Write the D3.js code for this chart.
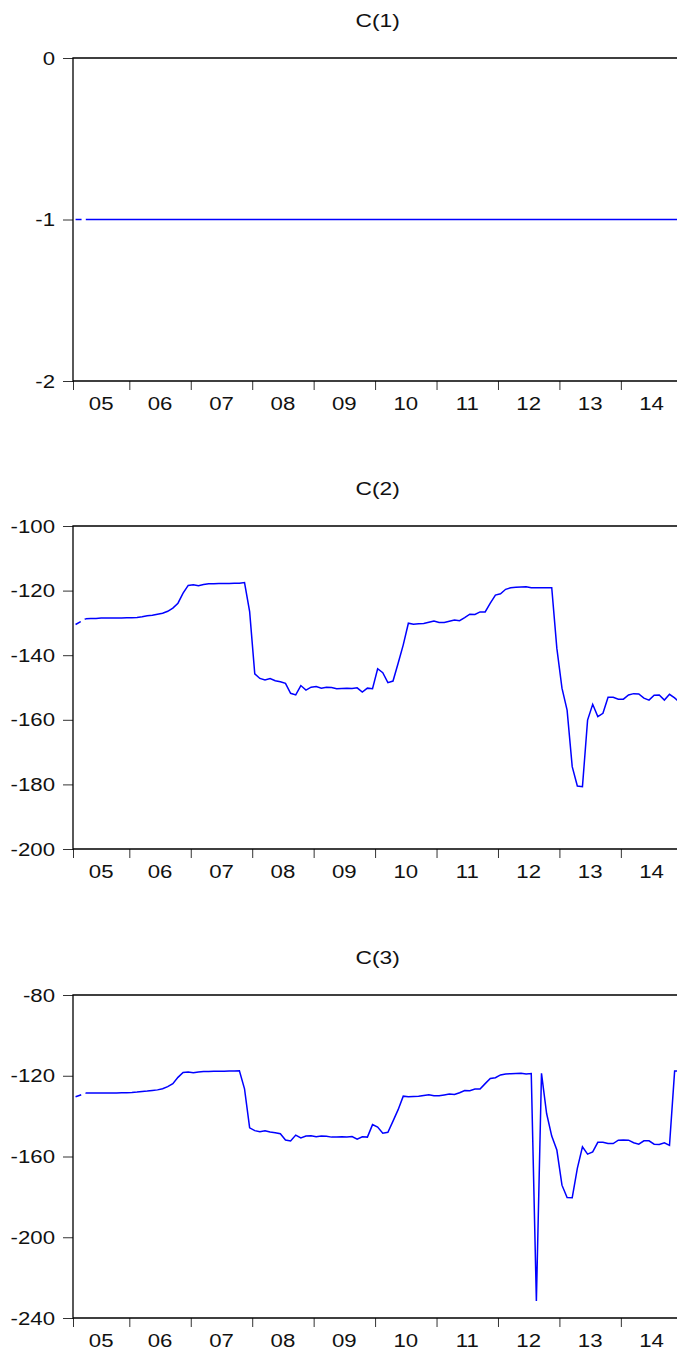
<!DOCTYPE html>
<html>
<head>
<meta charset="utf-8">
<script src="https://cdn.jsdelivr.net/npm/d3@7/dist/d3.min.js"></script>
<style>
  html, body { margin: 0; padding: 0; background: #fff; }
  svg { display: block; }
  text { font-family: "Liberation Sans", Arial, sans-serif; fill: #111; }
</style>
</head>
<body>
<svg id="chart" width="677" height="1353"></svg>
<script>
// ---- data (monthly, 2005M02 .. 2014M12) ----
const yearLabels = ["05","06","07","08","09","10","11","12","13","14"];
const titles = ["C(1)", "C(2)", "C(3)"];

const c1 = new Array(119).fill(-1);

const c2 = [
  -130.5,-129.6,-128.7,-128.6,-128.6,-128.5,-128.5,-128.5,-128.5,-128.5,
  -128.4,-128.4,-128.3,-128.1,-127.8,-127.6,-127.3,-127.0,-126.4,-125.4,
  -123.9,-120.8,-118.4,-118.2,-118.5,-118.1,-117.9,-117.9,-117.8,-117.8,
  -117.8,-117.7,-117.7,-117.5,-126.5,-145.8,-147.2,-147.7,-147.2,-147.9,
  -148.2,-148.7,-151.8,-152.3,-149.4,-150.8,-149.9,-149.7,-150.2,-149.9,
  -150.0,-150.4,-150.3,-150.2,-150.3,-150.1,-151.4,-150.2,-150.4,-144.2,
  -145.4,-148.5,-148.0,-142.5,-136.8,-130.1,-130.4,-130.3,-130.2,-129.8,
  -129.4,-129.9,-129.9,-129.5,-129.1,-129.3,-128.4,-127.3,-127.4,-126.6,
  -126.6,-123.9,-121.4,-121.0,-119.6,-119.1,-119.0,-118.9,-118.8,-119.1,
  -119.1,-119.1,-119.1,-119.1,-137.9,-150.2,-157.0,-174.5,-180.5,-180.7,
  -160.1,-155.2,-159.0,-158.0,-153.0,-153.0,-153.6,-153.6,-152.3,-151.9,
  -152.0,-153.3,-153.9,-152.4,-152.3,-153.9,-152.1,-153.2,-154.6
];

const c3 = [
  -130.4,-129.5,-128.6,-128.6,-128.5,-128.5,-128.5,-128.5,-128.5,-128.4,
  -128.4,-128.3,-128.1,-127.8,-127.6,-127.3,-127.0,-126.4,-125.4,-123.9,
  -120.8,-118.4,-118.2,-118.5,-118.1,-117.9,-117.9,-117.8,-117.8,-117.8,
  -117.7,-117.7,-117.5,-126.5,-145.8,-147.2,-147.7,-147.2,-147.9,-148.2,
  -148.7,-151.8,-152.3,-149.4,-150.8,-149.9,-149.7,-150.2,-149.9,-150.0,
  -150.4,-150.3,-150.2,-150.3,-150.1,-151.4,-150.2,-150.4,-144.2,-145.4,
  -148.5,-148.0,-142.5,-136.8,-130.1,-130.4,-130.3,-130.2,-129.8,-129.4,
  -129.9,-129.9,-129.5,-129.1,-129.3,-128.4,-127.3,-127.4,-126.6,-126.6,
  -123.9,-121.4,-121.0,-119.6,-119.1,-119.0,-118.9,-118.8,-119.1,-118.9,
  -231.6,-118.8,-138.7,-149.9,-156.8,-174.2,-180.3,-180.4,-165.9,-155.2,
  -158.8,-157.7,-153.0,-153.0,-153.5,-153.6,-151.9,-151.8,-151.9,-153.2,
  -153.9,-152.2,-152.2,-153.9,-154.0,-153.2,-154.5,-117.7,-117.7
];

const yTicks1 = [0, -1, -2];
const yTicks2 = [-100, -120, -140, -160, -180, -200];
const yTicks3 = [-80, -120, -160, -200, -240];

// ---- layout ----
const panels = [
  { title: titles[0], values: c1, ticks: yTicks1, domain: [-2, 0],     top: 58 },
  { title: titles[1], values: c2, ticks: yTicks2, domain: [-200, -100], top: 526 },
  { title: titles[2], values: c3, ticks: yTicks3, domain: [-240, -80],  top: 995 }
];
const plotH = 323;
const left = 73, right = 682.3;
const nObs = c2.length;
const stretch = 1.2;   // glyphs in the original are horizontally stretched

const svg = d3.select("#chart");
const x = d3.scaleLinear().domain([-0.5, nObs - 0.5]).range([left, right]);

function label(g, tx, ty, str, size, anchor) {
  return g.append("text")
    .attr("transform", `translate(${tx},${ty}) scale(${stretch},1)`)
    .attr("text-anchor", anchor)
    .style("font-size", size + "px")
    .text(str);
}

// year boundaries between Dec and Jan observations (obs 0 = Feb 2005)
const boundaries = [-0.5].concat(d3.range(1, 10).map(k => 12 * k - 1.5));
const labelPos = yearLabels.map((lab, k) => {
  const a = Math.max(-0.5, 12 * k - 1.5), b = 12 * k + 10.5;
  return { lab, pos: (a + b) / 2 };
});

panels.forEach(p => {
  const g = svg.append("g");
  const y = d3.scaleLinear().domain(p.domain).range([p.top + plotH, p.top]);

  // title
  label(g, (left + right) / 2, p.top - 31, p.title, 19, "middle");

  // y axis ticks
  const ya = d3.axisLeft(y).tickValues(p.ticks).tickSize(10).tickFormat("");
  const yg = g.append("g").attr("transform", `translate(${left},0)`).call(ya);
  yg.select(".domain").remove();
  yg.selectAll(".tick line").attr("stroke", "#333").attr("stroke-width", 1);
  p.ticks.forEach(t => label(g, left - 18, y(t) + 6.5, String(t), 18.5, "end"));

  // x axis ticks
  const xa = d3.axisBottom(x).tickValues(boundaries).tickSize(9).tickFormat("");
  const xg = g.append("g").attr("transform", `translate(0,${p.top + plotH})`).call(xa);
  xg.select(".domain").remove();
  xg.selectAll(".tick line").attr("stroke", "#333").attr("stroke-width", 1);

  labelPos.forEach(d => label(g, x(d.pos), p.top + plotH + 29, d.lab, 18.5, "middle"));

  // frame (left, top, bottom; right edge lies beyond the page)
  g.append("path")
    .attr("d", `M${right},${p.top}H${left}V${p.top + plotH}H${right}`)
    .attr("fill", "none").attr("stroke", "#000").attr("stroke-width", 1.3);

  // series
  const pts = p.values.map((v, i) => [x(i), y(v)]);
  const line = d3.line();
  g.append("path")
    .attr("d", line(pts.slice(0, 3)))
    .attr("fill", "none").attr("stroke", "#0000ff").attr("stroke-width", 1.5)
    .attr("stroke-dasharray", "6,4.5");
  g.append("path")
    .attr("d", line(pts.slice(2)))
    .attr("fill", "none").attr("stroke", "#0000ff").attr("stroke-width", 1.5);
});
</script>
</body>
</html>
